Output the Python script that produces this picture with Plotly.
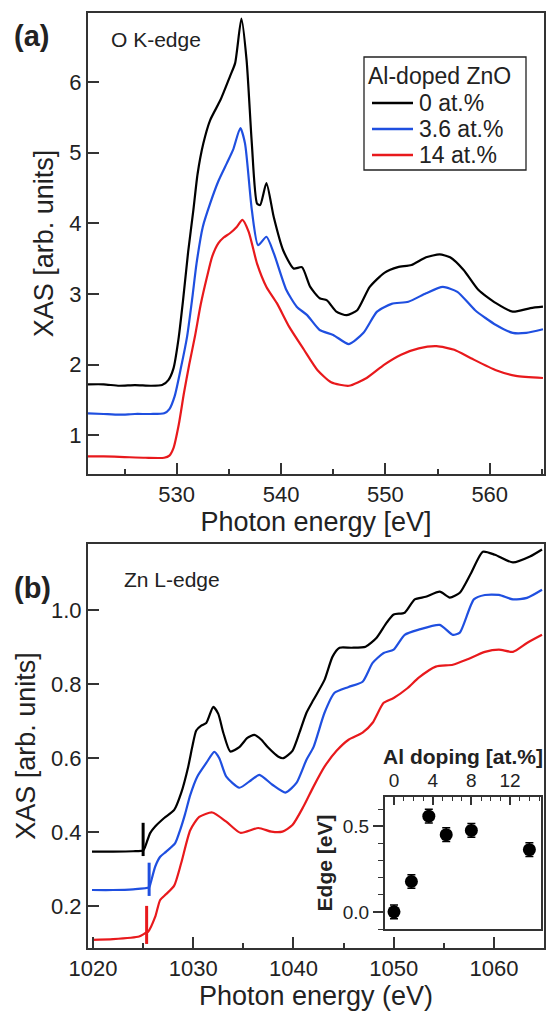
import plotly.graph_objects as go

# ---------------- Panel (a): O K-edge ----------------
o_e_0 = [521.5, 523, 524.5, 526, 527.5, 528.6, 529.2, 529.7, 530.16, 530.6, 531.1, 531.6, 532.0, 532.55,
         533.2, 534.2, 535.1, 535.6, 536.2, 536.7, 537.2, 537.7, 538.0, 538.6, 539.3, 540.2, 541.2,
         542.0, 542.8, 543.7, 544.4, 545.3, 546.3, 547.3, 548.5, 549.9, 551.2, 552.5, 553.9, 555.2,
         556.2, 557.5, 558.9, 560.6, 562.2, 563.9, 565.1]
o_v_0 = [1.72, 1.72, 1.70, 1.71, 1.70, 1.71, 1.78, 1.95, 2.35, 2.90, 3.60, 4.19, 4.70, 5.13,
         5.46, 5.75, 6.08, 6.27, 6.90, 6.31, 5.13, 4.28, 4.26, 4.57, 4.09, 3.62, 3.36,
         3.38, 3.10, 2.94, 2.91, 2.75, 2.70, 2.77, 3.10, 3.30, 3.38, 3.41, 3.52, 3.56,
         3.52, 3.34, 3.06, 2.87, 2.75, 2.80, 2.82]

o_e_36 = [521.5, 523, 524.5, 526, 527.5, 528.8, 529.3, 529.8, 530.4, 531.0, 531.5, 531.9, 532.5, 533.2,
          534.0, 534.8, 535.4, 536.1, 536.55, 537.2, 537.8, 538.6, 539.3, 540.5, 541.5, 542.5, 543.7,
          545.0, 546.5, 547.9, 549.2, 550.6, 552.2, 553.9, 555.5, 556.9, 558.6, 560.6, 562.2, 563.5,
          565.1]
o_v_36 = [1.31, 1.30, 1.29, 1.30, 1.30, 1.31, 1.37, 1.55, 1.95, 2.40, 2.95, 3.43, 3.95, 4.28,
          4.60, 4.85, 5.04, 5.35, 5.13, 4.19, 3.69, 3.81, 3.58, 3.06, 2.82, 2.70, 2.49,
          2.42, 2.29, 2.45, 2.75, 2.86, 2.89, 3.01, 3.10, 3.03, 2.77, 2.56, 2.45, 2.45,
          2.50]

o_e_14 = [521.5, 523, 525, 527, 528.8, 529.3, 529.7, 530.2, 530.7, 531.2, 531.75, 532.3, 532.9, 533.4,
          534.0, 534.5, 535.1, 535.75, 536.3, 536.9, 537.7, 538.6, 539.6, 540.8, 542.2, 543.5, 544.8,
          546.5, 548.2, 549.9, 551.5, 553.2, 554.9, 556.6, 558.2, 560.6, 562.5, 565.1]
o_v_14 = [0.70, 0.70, 0.69, 0.68, 0.68, 0.71, 0.82, 1.15, 1.60, 2.00, 2.40, 2.85, 3.24, 3.53,
          3.72, 3.80, 3.86, 3.95, 4.05, 3.88, 3.43, 3.10, 2.87, 2.53, 2.21, 1.92, 1.75,
          1.70, 1.81, 2.00, 2.14, 2.23, 2.26, 2.21, 2.09, 1.92, 1.84, 1.81]

# ---------------- Panel (b): Zn L-edge ----------------
zn_e_0 = [1019.9, 1022, 1024, 1025.0, 1025.2, 1025.7, 1026.2, 1027.1, 1028.1, 1028.8, 1029.5, 1029.9,
          1030.3, 1030.8, 1031.3, 1032.0, 1032.5, 1033.0, 1033.7, 1034.6, 1035.4, 1036.1, 1036.8,
          1037.5, 1038.5, 1039.0, 1039.9, 1040.6, 1041.3, 1042.0, 1043.1, 1043.9, 1044.6, 1045.8,
          1047.2, 1048.3, 1049.3, 1050.0, 1051.1, 1052.1, 1053.2, 1054.6, 1055.6, 1056.6, 1057.7,
          1058.9, 1060.1, 1061.9, 1063.6, 1064.8]
zn_v_0 = [0.347, 0.347, 0.348, 0.350, 0.360, 0.397, 0.415, 0.438, 0.460, 0.506, 0.577, 0.630,
          0.675, 0.688, 0.695, 0.739, 0.720, 0.669, 0.618, 0.630, 0.655, 0.663, 0.650,
          0.628, 0.604, 0.600, 0.620, 0.669, 0.723, 0.758, 0.812, 0.875, 0.899, 0.899,
          0.902, 0.926, 0.967, 0.989, 0.994, 1.030, 1.037, 1.051, 1.035, 1.048, 1.100,
          1.159, 1.151, 1.130, 1.146, 1.165]

zn_e_36 = [1019.9, 1022, 1024, 1025.6, 1025.7, 1026.2, 1026.7, 1027.3, 1028.2, 1028.7, 1029.2, 1029.7,
           1030.4, 1031.3, 1032.1, 1032.6, 1033.3, 1034.6, 1035.8, 1036.6, 1037.9, 1039.2, 1040.3,
           1041.3, 1042.0, 1043.1, 1044.1, 1045.5, 1046.9, 1047.9, 1049.0, 1050.0, 1051.1, 1052.5,
           1054.6, 1055.9, 1056.6, 1058.0, 1059.1, 1060.5, 1061.9, 1063.3, 1064.8]
zn_v_36 = [0.243, 0.243, 0.245, 0.250, 0.257, 0.306, 0.333, 0.347, 0.370, 0.406, 0.450, 0.500,
           0.550, 0.587, 0.617, 0.600, 0.550, 0.520, 0.541, 0.555, 0.528, 0.507, 0.533,
           0.596, 0.630, 0.723, 0.777, 0.793, 0.807, 0.858, 0.885, 0.894, 0.934, 0.948,
           0.961, 0.934, 0.940, 1.030, 1.042, 1.042, 1.030, 1.034, 1.056]

zn_e_14 = [1019.9, 1022, 1024.6, 1025.2, 1025.5, 1026.2, 1026.7, 1027.3, 1028.1, 1028.8, 1029.7,
           1030.6, 1031.9, 1033.3, 1034.7, 1036.5, 1037.8, 1038.9, 1039.9, 1041.0, 1042.0, 1043.1,
           1044.3, 1045.5, 1046.9, 1047.9, 1049.0, 1050.0, 1051.4, 1052.5, 1054.2, 1055.9, 1057.3,
           1059.1, 1060.5, 1061.9, 1063.3, 1064.8]
zn_v_14 = [0.108, 0.110, 0.117, 0.126, 0.130, 0.170, 0.216, 0.232, 0.255, 0.316, 0.405,
           0.441, 0.453, 0.428, 0.398, 0.411, 0.401, 0.401, 0.419, 0.469, 0.523, 0.577,
           0.620, 0.650, 0.669, 0.696, 0.750, 0.763, 0.790, 0.818, 0.848, 0.853, 0.867,
           0.888, 0.894, 0.888, 0.912, 0.934]

# edge position markers (energy, y-low, y-high)
edge_e = [1025.0, 1025.6, 1025.35]
edge_lo = [0.335, 0.227, 0.097]
edge_hi = [0.425, 0.317, 0.200]

# ---------------- Inset: edge shift vs Al doping ----------------
doping = [0, 1.8, 3.6, 5.4, 8.0, 14.0]
edge_shift = [0.0, 0.177, 0.558, 0.45, 0.475, 0.363]
edge_err = [0.04, 0.04, 0.04, 0.04, 0.04, 0.04]

legend_title = "Al-doped ZnO"
labels = ["0 at.%", "3.6 at.%", "14 at.%"]
colors = ["#000000", "#1f4fe0", "#e8191c"]

FONT = "Arial, Liberation Sans, sans-serif"
AXC = "#333333"
TXT = "#222222"

fig = go.Figure()

o_e = [o_e_0, o_e_36, o_e_14]
o_v = [o_v_0, o_v_36, o_v_14]
for e, v, lab, c in zip(o_e, o_v, labels, colors):
    fig.add_trace(go.Scatter(x=e, y=v, mode="lines", name=lab, showlegend=False,
                             line=dict(color=c, width=2.2, shape="spline", smoothing=0.6),
                             xaxis="x", yaxis="y"))

zn_e = [zn_e_0, zn_e_36, zn_e_14]
zn_v = [zn_v_0, zn_v_36, zn_v_14]
for e, v, lab, c in zip(zn_e, zn_v, labels, colors):
    fig.add_trace(go.Scatter(x=e, y=v, mode="lines", name=lab, showlegend=False,
                             line=dict(color=c, width=2.2, shape="spline", smoothing=0.6),
                             xaxis="x2", yaxis="y2"))

for ee, lo, hi, c in zip(edge_e, edge_lo, edge_hi, colors):
    fig.add_trace(go.Scatter(x=[ee, ee], y=[lo, hi], mode="lines", showlegend=False,
                             line=dict(color=c, width=3), xaxis="x2", yaxis="y2"))

fig.add_trace(go.Scatter(x=doping, y=edge_shift, mode="markers", showlegend=False,
                         marker=dict(color="black", size=13),
                         error_y=dict(type="data", array=edge_err, color="black", thickness=1.5, width=4),
                         xaxis="x3", yaxis="y3"))

W, H = 547, 1014
def px(x):
    return x / W
def py(y):
    return 1 - y / H

common = dict(showline=True, linecolor=AXC, linewidth=2, mirror=True, ticks="inside",
              ticklen=11, tickwidth=1.5, tickcolor=AXC, showgrid=False, zeroline=False,
              automargin=False, tickfont=dict(size=22, family=FONT, color=TXT))

fig.update_layout(
    width=W, height=H, autosize=False,
    margin=dict(l=0, r=0, t=0, b=0, autoexpand=False),
    paper_bgcolor="white", plot_bgcolor="white",
    font=dict(family=FONT, color=TXT),
    showlegend=False,
    xaxis=dict(domain=[px(88), px(544)], range=[521.5, 565.2], anchor="y",
               tickvals=[530, 540, 550, 560],
               minor=dict(ticks="inside", dtick=5, tick0=520, ticklen=5, tickcolor=AXC, tickwidth=1.5),
               title=dict(text="Photon energy [eV]", font=dict(size=27, family=FONT), standoff=6),
               **common),
    yaxis=dict(domain=[py(474), py(13)], range=[0.45, 6.98], anchor="x",
               tickvals=[1, 2, 3, 4, 5, 6],
               title=dict(text="XAS [arb. units]", font=dict(size=27, family=FONT), standoff=8),
               **common),
    xaxis2=dict(domain=[px(88), px(544)], range=[1019.5, 1065.0], anchor="y2",
                tickvals=[1020, 1030, 1040, 1050, 1060],
                minor=dict(ticks="inside", dtick=5, tick0=1020, ticklen=5, tickcolor=AXC, tickwidth=1.5),
                title=dict(text="Photon energy (eV)", font=dict(size=27, family=FONT), standoff=6),
                **common),
    yaxis2=dict(domain=[py(948), py(544)], range=[0.086, 1.18], anchor="x2",
                tickvals=[0.2, 0.4, 0.6, 0.8, 1.0], tickformat=".1f",
                title=dict(text="XAS [arb. units]", font=dict(size=27, family=FONT), standoff=8),
                **common),
    xaxis3=dict(domain=[px(385), px(541)], range=[-0.93, 15.2], anchor="y3", side="top",
                showline=True, linecolor=AXC, linewidth=2, mirror=True, automargin=False,
                ticks="inside", ticklen=8, tickwidth=1.5, tickcolor=AXC,
                tickvals=[0, 4, 8, 12],
                minor=dict(ticks="inside", dtick=1, tick0=0, ticklen=4, tickcolor=AXC, tickwidth=1.2),
                showgrid=False, zeroline=False,
                tickfont=dict(size=19, family=FONT, color=TXT),
                title=dict(text="<b>Al doping [at.%]</b>", font=dict(size=21, family=FONT), standoff=0)),
    yaxis3=dict(domain=[py(929), py(797)], range=[-0.1, 0.67], anchor="x3",
                showline=True, linecolor=AXC, linewidth=2, mirror=True, automargin=False,
                ticks="outside", ticklen=10, tickwidth=1.5, tickcolor=AXC,
                tickvals=[0.0, 0.5], tickformat=".1f",
                minor=dict(ticks="outside", dtick=0.1, tick0=0, ticklen=5, tickcolor=AXC, tickwidth=1.2),
                showgrid=False, zeroline=False,
                tickfont=dict(size=19, family=FONT, color=TXT),
                title=dict(text="<b>Edge [eV]</b>", font=dict(size=21, family=FONT), standoff=4)),
)

# legend box drawn by hand (compact spacing like the original)
fig.add_shape(type="rect", xref="paper", yref="paper", x0=px(364), x1=px(526), y0=py(170), y1=py(57),
              line=dict(color=TXT, width=1.3), fillcolor="white", layer="above")
fig.add_annotation(xref="paper", yref="paper", x=px(366), y=py(76), text=legend_title, showarrow=False,
                   xanchor="left", yanchor="middle", font=dict(size=23, family=FONT, color=TXT))
for i, (lab, c) in enumerate(zip(labels, colors)):
    yy = py(103 + 26 * i)
    fig.add_shape(type="line", xref="paper", yref="paper", x0=px(372), x1=px(413), y0=yy, y1=yy,
                  line=dict(color=c, width=2.5), layer="above")
    fig.add_annotation(xref="paper", yref="paper", x=px(417), y=yy, text=lab, showarrow=False,
                       xanchor="left", yanchor="middle", font=dict(size=23, family=FONT, color=TXT))

ann = [
    dict(text="<b>(a)</b>", x=px(12), y=py(36), font=dict(size=29)),
    dict(text="<b>(b)</b>", x=px(12), y=py(588), font=dict(size=29)),
    dict(text="O K-edge", x=px(109), y=py(40), font=dict(size=21)),
    dict(text="Zn L-edge", x=px(122), y=py(579), font=dict(size=21)),
]
for a in ann:
    fig.add_annotation(xref="paper", yref="paper", showarrow=False, xanchor="left", yanchor="middle",
                       font_family=FONT, font_color=TXT, **a)

# remove the browser's default page margin so the 547x1014 figure fills the window exactly
fig.write_html("out.html",
               config={"displayModeBar": False},
               post_script="document.body.style.margin='0';document.body.style.overflow='hidden';")
